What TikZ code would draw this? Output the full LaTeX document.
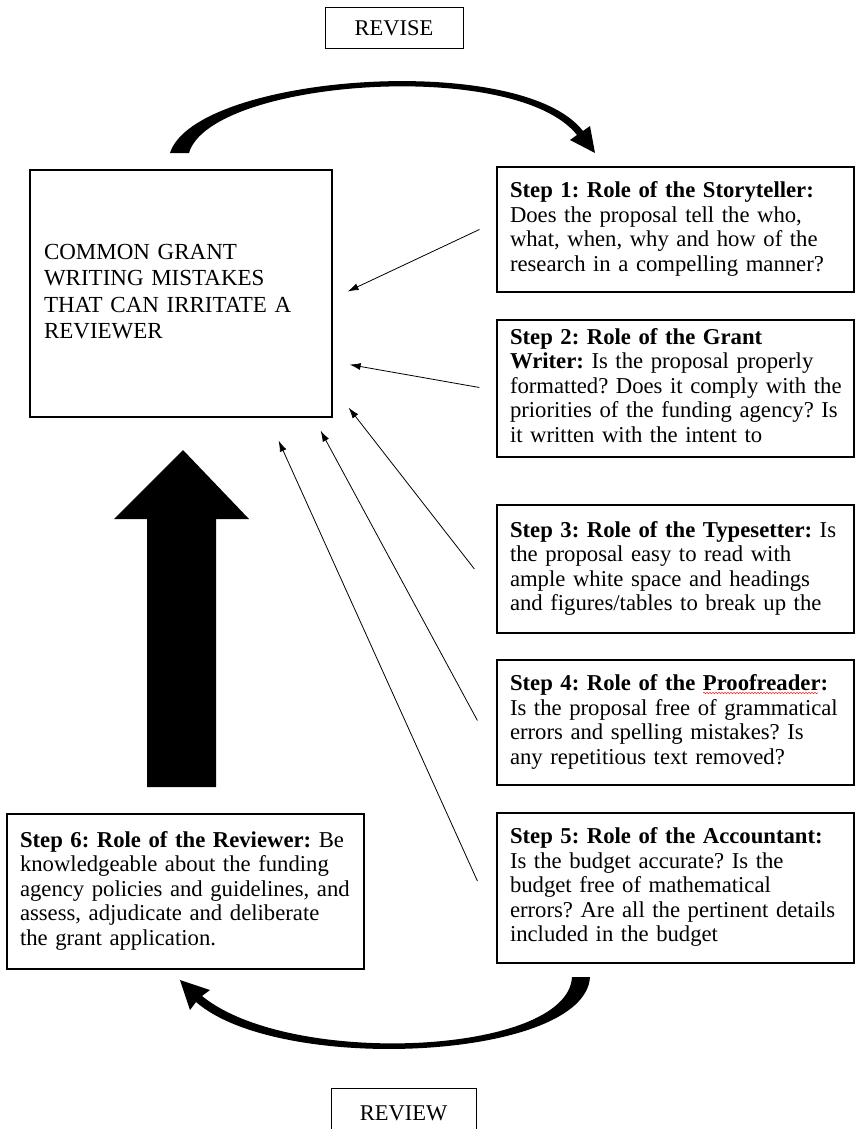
\documentclass[tikz,border=0pt]{standalone}
\usepackage{fontspec}
\setmainfont{Liberation Serif}
\usetikzlibrary{arrows.meta,decorations.pathmorphing}

% rows of a box, never rewrapped
\newcommand\boxrows[1]{\begin{tabular}{@{}l@{}}#1\end{tabular}}

\tikzset{
  box/.style={draw,line width=1.2pt,align=left,inner ysep=0pt},
  stepbox/.style={box,text width=331pt,inner xsep=13pt,minimum height=#1,
    font=\fontsize{22.7}{24.5}\selectfont},
  tagbox/.style={draw,line width=1pt,font=\fontsize{22.5}{25}\selectfont},
  feed/.style={-{Latex[length=11pt,width=7pt]},line width=0.8pt},
}

\begin{document}
\frenchspacing
\begin{tikzpicture}[x=1pt,y=-1pt]
    \useasboundingbox (0,0) rectangle (855,1129);
    \node[tagbox,minimum width=138pt,minimum height=41pt] (revise) at (394,28.5) {REVISE};
    \node[tagbox,minimum width=145pt,minimum height=50pt] (review) at (403.5,1113) {REVIEW};
    \node[box,text width=274pt,inner xsep=14pt,minimum height=247pt,
      font=\fontsize{23}{26.5}\selectfont] (main) at (181,293.5)
      {\boxrows{COMMON GRANT\\ WRITING MISTAKES\\ THAT CAN IRRITATE A\\ REVIEWER}};
    \node[stepbox=125pt] (s1) at (675.5,229.5) {\boxrows{\textbf{Step 1: Role of the Storyteller:}\\
      Does the proposal tell the who,\\ what, when, why and how of the\\ research in a compelling manner?}};
    \node[stepbox=137pt] (s2) at (675.5,388.5) {\boxrows{\textbf{Step 2: Role of the Grant}\\
      \textbf{Writer:} Is the proposal properly\\ formatted? Does it comply with the\\
      priorities of the funding agency? Is\\ it written with the intent to}};
    \node[stepbox=128pt] (s3) at (675.5,569) {\boxrows{\textbf{Step 3: Role of the Typesetter:} Is\\
      the proposal easy to read with\\ ample white space and headings\\ and figures/tables to break up the}};
    \node[stepbox=125pt] (s4) at (675.5,722.5) {\boxrows{\textbf{Step 4: Role of the Proofreader:}\\
      Is the proposal free of grammatical\\ errors and spelling mistakes? Is\\ any repetitious text removed?}};
    \node[stepbox=150pt] (s5) at (675.5,888) {\boxrows{\textbf{Step 5: Role of the Accountant:}\\
      Is the budget accurate? Is the\\ budget free of mathematical\\
      errors? Are all the pertinent details\\ included in the budget}};
    \node[stepbox=155pt] (s6) at (185.5,891.5) {\boxrows{\textbf{Step 6: Role of the Reviewer:} Be\\
      knowledgeable about the funding\\ agency policies and guidelines, and\\
      assess, adjudicate and deliberate\\ the grant application.}};
    % spelling squiggle
    \draw[red!85,line width=0.6pt,decorate,decoration={snake,amplitude=0.7pt,segment length=3pt}]
      (703,693) -- (818,693);
    % arrows into the main box
    \draw[feed] ([xshift=-17pt]s1.west) -- ([xshift=15pt,yshift=2pt]main.east);
    \draw[feed] ([xshift=-17pt,yshift=1pt]s2.west) -- ([xshift=17pt,yshift=53pt]main.south east);
    \draw[feed] ([xshift=-22pt]s3.west) -- ([xshift=16pt,yshift=10pt]main.south east);
    \draw[feed] ([xshift=-19pt,yshift=2pt]s4.west) -- ([xshift=-12pt,yshift=-13pt]main.south east);
    \draw[feed] ([xshift=-19pt,yshift=7pt]s5.west) -- ([xshift=-54pt,yshift=-23pt]main.south east);
    % big up arrow
    \fill (147,787) -- (147,519) -- (114,519) -- (183,450) -- (249,519) -- (216,519) -- (216,787) -- cycle;
    % curved arrow at the top
    \fill (170,153) .. controls (195,75) and (520,50) .. (583,131) -- (590,126) -- (595,153)
      -- (570,140) -- (577,135) .. controls (515,57) and (210,80) .. (189,153) -- cycle;
    % curved arrow at the bottom
    \fill (590,977) .. controls (585,1060) and (280,1075) .. (196,1002) -- (190,1010) -- (180,980)
      -- (210,990) -- (202,996) .. controls (290,1068) and (568,1055) .. (572,977) -- cycle;
\end{tikzpicture}
\end{document}
